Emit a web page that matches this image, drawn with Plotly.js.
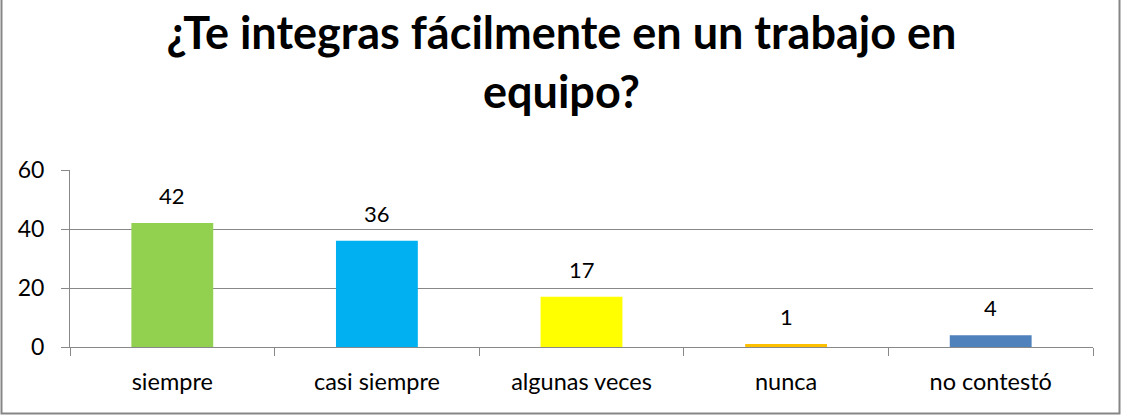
<!DOCTYPE html>
<html>
<head>
<meta charset="utf-8">
<script src="https://cdn.plot.ly/plotly-3.0.1.min.js"></script>
<style>
html,body{margin:0;padding:0;background:#fff;}
#chart{width:1123px;height:415px;}
</style>
</head>
<body>
<div id="chart"></div>
<script>
const titleLines = ["¿Te integras fácilmente en un trabajo en", "equipo?"];
const categories = ["siempre", "casi siempre", "algunas veces", "nunca", "no contestó"];
const values = [42, 36, 17, 1, 4];
const barColors = ["#92D050", "#00B0F0", "#FFFF00", "#FFC000", "#4F81BD"];
const yTicks = [0, 20, 40, 60];

const FONT = "Lato, 'Open Sans', sans-serif";
const gridColor = "#888888";

const plotL = 70, plotR = 1093, plotT = 170, plotB = 347;
const W = 1123, H = 415;
const pw = plotR - plotL, ph = plotB - plotT;
const px = v => (v - plotL) / pw;
const py = v => (plotB - v) / ph;

const trace = {
  type: "bar",
  x: categories,
  y: values,
  marker: {color: barColors, line: {width: 0}},
  hoverinfo: "x+y"
};

const dataLabels = categories.map((c, i) => ({
  x: c, y: values[i], xref: "x", yref: "y",
  text: String(values[i]), showarrow: false,
  yanchor: "bottom", yshift: 12,
  font: {family: FONT, size: 22, color: "#000"}
}));

const layout = {
  width: W, height: H,
  margin: {l: plotL, r: W - plotR, t: plotT, b: H - plotB, pad: 0},
  paper_bgcolor: "#fff", plot_bgcolor: "#fff",
  showlegend: false,
  bargap: 0.6,
  font: {family: FONT, size: 22, color: "#000"},
  title: {
    text: "<b>" + titleLines[0] + "<br>" + titleLines[1] + "</b>",
    x: 0.5, xanchor: "center", xref: "container",
    y: 1 - 49 / H, yanchor: "middle", yref: "container",
    font: {family: FONT, size: 45, color: "#000"}
  },
  xaxis: {
    type: "category",
    showgrid: false,
    showline: true, linecolor: gridColor, linewidth: 1,
    ticks: "outside", tickson: "boundaries", ticklen: 8, tickcolor: gridColor, tickwidth: 1,
    ticklabelstandoff: 14,
    tickfont: {family: FONT, size: 23.5, color: "#000"},
    fixedrange: true
  },
  yaxis: {
    range: [0, 60],
    tickvals: yTicks,
    ticktext: yTicks.map(String),
    showgrid: true, gridcolor: gridColor, gridwidth: 1,
    zeroline: false,
    showline: true, linecolor: gridColor, linewidth: 1,
    ticks: "outside", ticklen: 8, tickcolor: gridColor, tickwidth: 1,
    ticklabelstandoff: 12,
    tickfont: {family: FONT, size: 23, color: "#000"},
    fixedrange: true
  },
  annotations: dataLabels,
  shapes: [
    {
      type: "rect", xref: "paper", yref: "paper",
      x0: px(1.5), x1: px(1119.5), y0: py(413.5), y1: py(-5),
      line: {color: "#868686", width: 2}, fillcolor: "rgba(0,0,0,0)",
      layer: "below"
    }
  ]
};

Plotly.newPlot("chart", [trace], layout, {displayModeBar: false, staticPlot: true});
</script>
</body>
</html>
